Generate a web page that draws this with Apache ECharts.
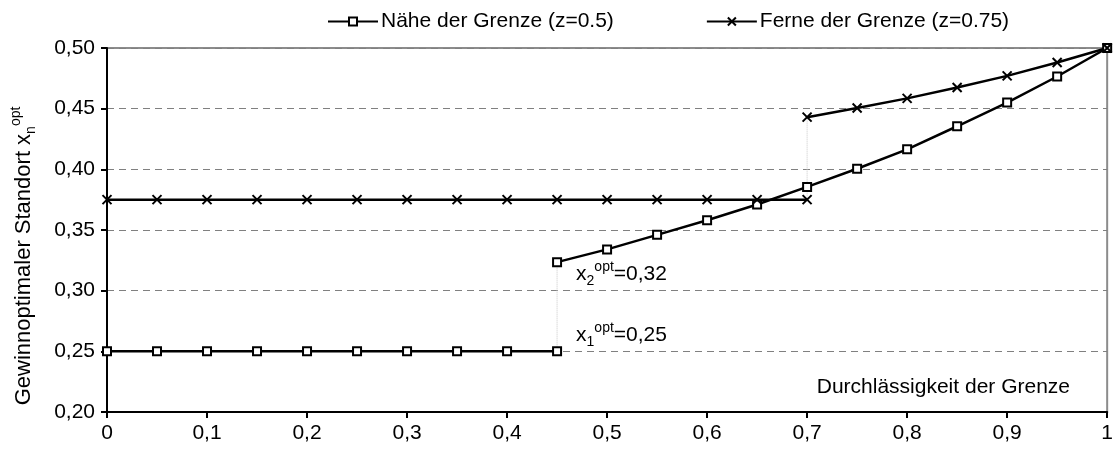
<!DOCTYPE html>
<html>
<head>
<meta charset="utf-8">
<script src="https://cdn.jsdelivr.net/npm/echarts@6/dist/echarts.min.js"></script>
<style>
html,body{margin:0;padding:0;background:#fff;}
#c{width:1116px;height:452px;}
</style>
</head>
<body>
<div id="c"></div>
<script>
// ---- data ----
var nearName = 'Nähe der Grenze (z=0.5)';
var farName = 'Ferne der Grenze (z=0.75)';
var xNearLow = [0, 0.05, 0.1, 0.15, 0.2, 0.25, 0.3, 0.35, 0.4, 0.45];
var yNearLow = [0.25, 0.25, 0.25, 0.25, 0.25, 0.25, 0.25, 0.25, 0.25, 0.25];
var xNearHigh = [0.45, 0.5, 0.55, 0.6, 0.65, 0.7, 0.75, 0.8, 0.85, 0.9, 0.95, 1];
var yNearHigh = [0.3235, 0.334, 0.346, 0.358, 0.371, 0.3855, 0.4005, 0.4165, 0.4355, 0.455, 0.4765, 0.5];
var xFarLow = [0, 0.05, 0.1, 0.15, 0.2, 0.25, 0.3, 0.35, 0.4, 0.45, 0.5, 0.55, 0.6, 0.65, 0.7];
var yFarLow = [0.375, 0.375, 0.375, 0.375, 0.375, 0.375, 0.375, 0.375, 0.375, 0.375, 0.375, 0.375, 0.375, 0.375, 0.375];
var xFarHigh = [0.7, 0.75, 0.8, 0.85, 0.9, 0.95, 1];
var yFarHigh = [0.443, 0.4505, 0.4585, 0.4675, 0.477, 0.488, 0.5];
var xTicks = ['0', '0,1', '0,2', '0,3', '0,4', '0,5', '0,6', '0,7', '0,8', '0,9', '1'];
var xTitle = 'Durchlässigkeit der Grenze';
var yTitle = '{b|Gewinnoptimaler Standort x}{s|n}{p|opt}';
var ann1 = '{b|x}{s|1}{p|opt}{b|=0,25}';
var ann2 = '{b|x}{s|2}{p|opt}{b|=0,32}';

function pairs(xs, ys) { return xs.map(function (x, i) { return [x, ys[i]]; }); }

var FONT = 'Liberation Sans, Arial, sans-serif';
var crossPath = 'path://M0,0L10,10M0,10L10,0';

var squareStyle = {
  type: 'line', name: nearName, symbol: 'rect', symbolSize: 8,
  itemStyle: { color: '#fff', borderColor: '#000', borderWidth: 2 },
  lineStyle: { color: '#000', width: 2.5 }, z: 3, silent: true, animation: false
};
var crossStyle = {
  type: 'line', name: farName, symbol: crossPath, symbolSize: 9,
  itemStyle: { color: '#000', borderColor: '#000', borderWidth: 2 },
  lineStyle: { color: '#000', width: 2.5 }, z: 3, silent: true, animation: false
};
function withData(base, data) { var o = Object.assign({}, base); o.data = data; return o; }

function rich(main, small) {
  return {
    b: { fontSize: main, fontFamily: FONT, fill: '#000', color: '#000', lineHeight: main + 10, verticalAlign: 'middle' },
    s: { fontSize: small, fontFamily: FONT, fill: '#000', color: '#000', lineHeight: small, verticalAlign: 'bottom', padding: [0, 0, 2, 0] },
    p: { fontSize: small, fontFamily: FONT, fill: '#000', color: '#000', lineHeight: small, verticalAlign: 'top', padding: [1, 0, 0, 0] }
  };
}

var chart = echarts.init(document.getElementById('c'), null, { renderer: 'canvas' });
chart.setOption({
  animation: false,
  backgroundColor: '#fff',
  textStyle: { fontFamily: FONT },
  grid: { left: 107, right: 3, top: 48, bottom: 40, show: true, borderColor: '#8c8c8c', borderWidth: 2, backgroundColor: 'transparent' },
  legend: {
    top: 6, left: 322, itemWidth: 50, itemHeight: 10, itemGap: 92,
    data: [nearName, farName],
    textStyle: { fontSize: 21, fontFamily: FONT, color: '#000', padding: [0, 0, 0, -2] },
    selectedMode: false
  },
  xAxis: {
    type: 'value', min: 0, max: 1, interval: 0.1,
    axisLine: { show: true, onZero: false, lineStyle: { color: '#000', width: 2 } },
    axisTick: { show: true, length: 6, lineStyle: { color: '#000', width: 2 } },
    axisLabel: { fontSize: 21, color: '#000', fontFamily: FONT, margin: 11,
      formatter: function (v) { return xTicks[Math.round(v * 10)]; } },
    splitLine: { show: false }
  },
  yAxis: {
    type: 'value', min: 0.2, max: 0.5, interval: 0.05,
    axisLine: { show: true, lineStyle: { color: '#000', width: 2 } },
    axisTick: { show: true, length: 6, lineStyle: { color: '#000', width: 2 } },
    axisLabel: { fontSize: 21, color: '#000', fontFamily: FONT, margin: 12,
      formatter: function (v) { return v.toFixed(2).replace('.', ','); } },
    splitLine: { show: true, lineStyle: { color: '#808080', width: 1, type: [7, 5] } }
  },
  graphic: [{
    type: 'text', right: 46, top: 377,
    style: { text: xTitle, fontSize: 21, fontFamily: FONT, fill: '#000' }
  }, {
    type: 'text', x: 24, y: 256, rotation: Math.PI / 2,
    style: { text: yTitle, rich: rich(22, 14), align: 'center', verticalAlign: 'middle', fill: '#000' }
  }],
  series: [
    { type: 'line', data: [[xNearLow[xNearLow.length - 1], yNearLow[yNearLow.length - 1]], [xNearHigh[0], yNearHigh[0]]],
      symbol: 'none', lineStyle: { color: '#c8c8c8', width: 1, type: 'dotted' }, z: 2, silent: true },
    { type: 'line', data: [[xFarLow[xFarLow.length - 1], yFarLow[yFarLow.length - 1]], [xFarHigh[0], yFarHigh[0]]],
      symbol: 'none', lineStyle: { color: '#c8c8c8', width: 1, type: 'dotted' }, z: 2, silent: true },
    withData(squareStyle, pairs(xNearLow, yNearLow)),
    withData(squareStyle, pairs(xNearHigh, yNearHigh)),
    withData(crossStyle, pairs(xFarLow, yFarLow)),
    withData(crossStyle, pairs(xFarHigh, yFarHigh))
  ]
});

// annotations anchored to data points through the chart's own scales
var p1 = chart.convertToPixel({ gridIndex: 0 }, [xNearLow[xNearLow.length - 1], yNearLow[yNearLow.length - 1]]);
var p2 = chart.convertToPixel({ gridIndex: 0 }, [xNearHigh[0], yNearHigh[0]]);
chart.setOption({
  graphic: [{
    type: 'text', right: 46, top: 377,
    style: { text: xTitle, fontSize: 21, fontFamily: FONT, fill: '#000' }
  }, {
    type: 'text', x: 24, y: 256, rotation: Math.PI / 2,
    style: { text: yTitle, rich: rich(22, 14), align: 'center', verticalAlign: 'middle', fill: '#000' }
  }, {
    type: 'text', x: p1[0] + 19, y: p1[1] - 16, z: 10,
    style: { text: ann1, rich: rich(21, 14), align: 'left', verticalAlign: 'middle', fill: '#000' }
  }, {
    type: 'text', x: p2[0] + 19, y: p2[1] + 12, z: 10,
    style: { text: ann2, rich: rich(21, 14), align: 'left', verticalAlign: 'middle', fill: '#000' }
  }]
});
</script>
</body>
</html>
